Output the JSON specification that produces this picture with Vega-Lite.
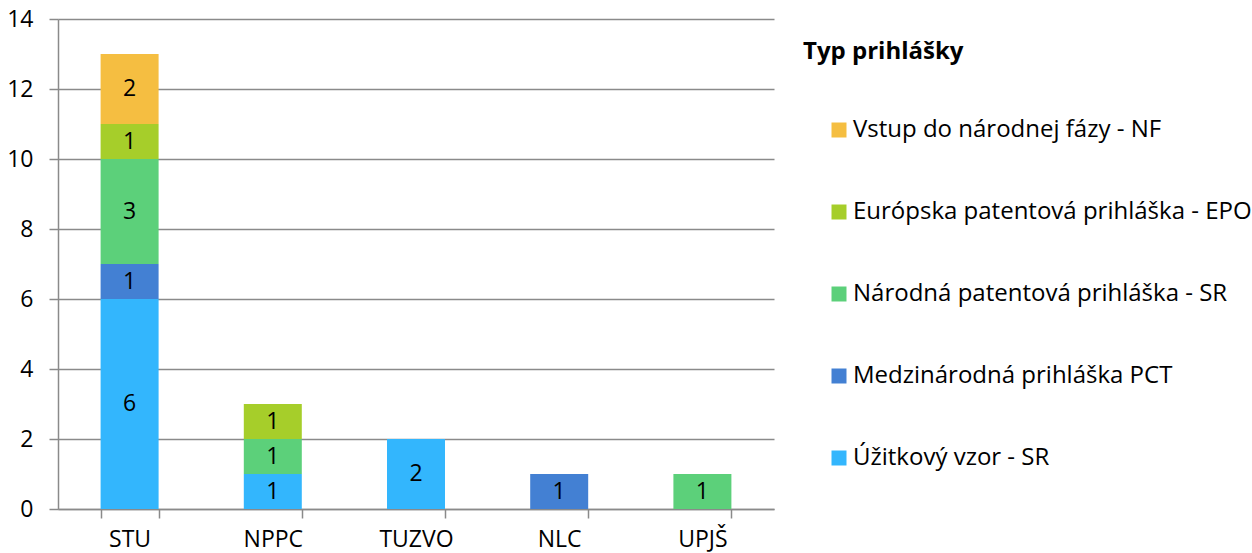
{
  "$schema": "https://vega.github.io/schema/vega-lite/v6.json",
  "autosize": "none",
  "width": 716,
  "height": 490,
  "padding": {"left": 58, "top": 19, "right": 478, "bottom": 44},
  "background": "white",
  "config": {
    "font": "Open Sans",
    "view": {"stroke": null}
  },
  "data": {
    "values": [
      {"inst": "STU", "type": "Úžitkový vzor - SR", "k": 1, "n": 6},
      {"inst": "STU", "type": "Medzinárodná prihláška PCT", "k": 2, "n": 1},
      {"inst": "STU", "type": "Národná patentová prihláška - SR", "k": 3, "n": 3},
      {"inst": "STU", "type": "Európska patentová prihláška - EPO", "k": 4, "n": 1},
      {"inst": "STU", "type": "Vstup do národnej fázy - NF", "k": 5, "n": 2},
      {"inst": "NPPC", "type": "Úžitkový vzor - SR", "k": 1, "n": 1},
      {"inst": "NPPC", "type": "Národná patentová prihláška - SR", "k": 3, "n": 1},
      {"inst": "NPPC", "type": "Európska patentová prihláška - EPO", "k": 4, "n": 1},
      {"inst": "TUZVO", "type": "Úžitkový vzor - SR", "k": 1, "n": 2},
      {"inst": "NLC", "type": "Medzinárodná prihláška PCT", "k": 2, "n": 1},
      {"inst": "UPJŠ", "type": "Národná patentová prihláška - SR", "k": 3, "n": 1}
    ]
  },
  "encoding": {
    "x": {
      "field": "inst",
      "type": "nominal",
      "sort": ["STU", "NPPC", "TUZVO", "NLC", "UPJŠ"],
      "scale": {"paddingInner": 0.595, "paddingOuter": 0.2975},
      "axis": {
        "title": null,
        "labelAngle": 0,
        "labelFontSize": 23,
        "labelColor": "#000000",
        "labelBaseline": "alphabetic",
        "labelPadding": 28,
        "tickBand": "extent",
        "tickSize": 9,
        "tickColor": "#8a8a8a",
        "tickWidth": 1.5,
        "domainColor": "#8a8a8a",
        "domainWidth": 1.5,
        "grid": false
      }
    }
  },
  "layer": [
    {
      "mark": {"type": "bar"},
      "encoding": {
        "y": {
          "field": "n",
          "type": "quantitative",
          "stack": "zero",
          "scale": {"domain": [0, 14]},
          "axis": {
            "title": null,
            "values": [0, 2, 4, 6, 8, 10, 12, 14],
            "labelFontSize": 23,
            "labelColor": "#000000",
            "labelPadding": 16,
            "tickSize": 9,
            "tickColor": "#8a8a8a",
            "tickWidth": 1.5,
            "domainColor": "#8a8a8a",
            "domainWidth": 1.5,
            "gridColor": "#8a8a8a",
            "gridWidth": 1.5
          }
        },
        "color": {
          "field": "type",
          "type": "nominal",
          "scale": {
            "domain": [
              "Vstup do národnej fázy - NF",
              "Európska patentová prihláška - EPO",
              "Národná patentová prihláška - SR",
              "Medzinárodná prihláška PCT",
              "Úžitkový vzor - SR"
            ],
            "range": ["#F5BE41", "#A6CE2A", "#5CD07A", "#4380D3", "#33B6FD"]
          },
          "legend": {
            "orient": "none",
            "legendX": 745,
            "legendY": 21,
            "title": "Typ prihlášky",
            "titleFontSize": 24,
            "titleFontWeight": "bold",
            "titleColor": "#000000",
            "titlePadding": 54,
            "symbolType": "square",
            "symbolSize": 225,
            "symbolStrokeWidth": 0,
            "symbolOffset": 24,
            "labelFontSize": 24,
            "labelColor": "#000000",
            "labelOffset": 2,
            "labelLimit": 500,
            "rowPadding": 58
          }
        },
        "order": {"field": "k", "type": "quantitative"}
      }
    },
    {
      "mark": {
        "type": "text",
        "baseline": "middle",
        "fontSize": 23,
        "color": "#000000",
        "dy": {"expr": "(scale('y', datum.n_start) - scale('y', datum.n_end)) / 2"}
      },
      "encoding": {
        "y": {"field": "n", "type": "quantitative", "stack": "zero"},
        "detail": {"field": "type"},
        "order": {"field": "k", "type": "quantitative"},
        "text": {"field": "n", "type": "quantitative"}
      }
    }
  ]
}
